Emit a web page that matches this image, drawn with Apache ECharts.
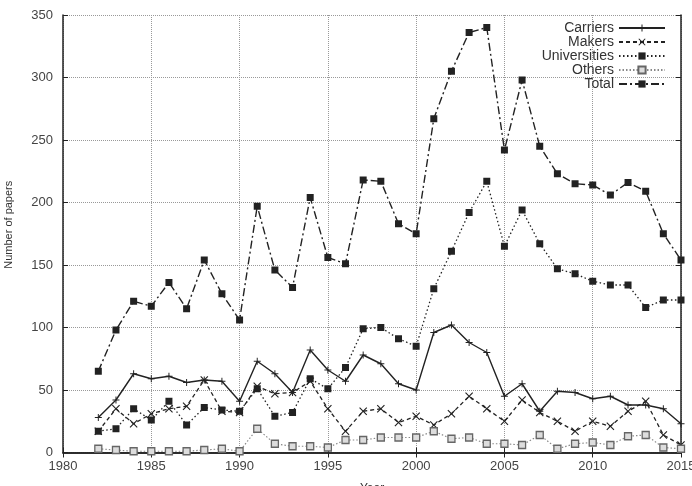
<!DOCTYPE html>
<html>
<head>
<meta charset="utf-8">
<script src="https://cdn.jsdelivr.net/npm/echarts@6/dist/echarts.min.js"></script>
<style>
  html, body { margin: 0; padding: 0; background: #fff; }
  #chart { width: 692px; height: 486px; }
</style>
</head>
<body>
<div id="chart"></div>
<script>
var years = [1982, 1983, 1984, 1985, 1986, 1987, 1988, 1989, 1990, 1991, 1992, 1993, 1994, 1995, 1996, 1997, 1998,
    1999, 2000, 2001, 2002, 2003, 2004, 2005, 2006, 2007, 2008, 2009, 2010, 2011, 2012, 2013, 2014, 2015];
var carriers = [28, 42, 63, 59, 61, 56, 58, 57, 41, 73, 63, 48, 82, 66, 57, 78, 71,
    55, 50, 96, 102, 88, 80, 45, 55, 33, 49, 48, 43, 45, 38, 38, 35, 23];
var makers = [17, 35, 23, 31, 35, 37, 58, 33, 32, 53, 47, 48, 57, 35, 17, 33, 35,
    24, 29, 22, 31, 45, 35, 25, 42, 32, 25, 17, 25, 21, 33, 41, 14, 6];
var universities = [17, 19, 35, 26, 41, 22, 36, 34, 33, 51, 29, 32, 59, 51, 68, 99, 100,
    91, 85, 131, 161, 192, 217, 165, 194, 167, 147, 143, 137, 134, 134, 116, 122, 122];
var others = [3, 2, 1, 1, 1, 1, 2, 3, 1, 19, 7, 5, 5, 4, 10, 10, 12,
    12, 12, 17, 11, 12, 7, 7, 6, 14, 3, 7, 8, 6, 13, 14, 4, 3];
var total = [65, 98, 121, 117, 136, 115, 154, 127, 106, 197, 146, 132, 204, 156, 151, 218, 217,
    183, 175, 267, 305, 336, 340, 242, 298, 245, 223, 215, 214, 206, 216, 209, 175, 154];

function pairs(vals) {
    return years.map(function (y, i) { return [y, vals[i]]; });
}

var ink = '#222';
var plusPath = 'path://M4.3,0H5.7V4.3H10V5.7H5.7V10H4.3V5.7H0V4.3H4.3Z';
var crossPath = 'path://M1,0L5,4L9,0L10,1L6,5L10,9L9,10L5,6L1,10L0,9L4,5L0,1Z';

var myChart = echarts.init(document.getElementById('chart'));
var option = {
    animation: false,
    textStyle: { fontFamily: 'Liberation Sans, Arial, sans-serif' },
    grid: { left: 63, right: 11, top: 15, bottom: 33.5, outerBoundsMode: 'none', containLabel: false },
    legend: {
        orient: 'vertical',
        right: 21,
        top: 16,
        align: 'right',
        itemWidth: 46,
        itemHeight: 9,
        itemGap: 0,
        textStyle: { fontSize: 14, color: '#333', lineHeight: 14 },
        data: ['Carriers', 'Makers', 'Universities', 'Others', 'Total']
    },
    xAxis: [{
        type: 'value',
        min: 1980,
        max: 2015,
        interval: 5,
        name: 'Year',
        nameLocation: 'middle',
        nameGap: 30,
        nameTextStyle: { fontSize: 12, color: '#333' },
        axisLine: { show: true, lineStyle: { color: ink, width: 1.5 } },
        axisTick: { inside: true, length: 5, lineStyle: { color: ink } },
        axisLabel: { fontSize: 13, color: '#444', margin: 7, formatter: function (v) { return String(v); } },
        splitLine: { show: true, lineStyle: { type: 'dotted', color: '#999', width: 1 } }
    }, {
        type: 'value',
        position: 'top',
        min: 1980,
        max: 2015,
        interval: 5,
        axisLine: { show: true, lineStyle: { color: ink, width: 1.5 } },
        axisTick: { inside: true, length: 5, lineStyle: { color: ink } },
        axisLabel: { show: false },
        splitLine: { show: false }
    }],
    yAxis: [{
        type: 'value',
        min: 0,
        max: 350,
        interval: 50,
        name: 'Number of papers',
        nameLocation: 'middle',
        nameGap: 49,
        nameTextStyle: { fontSize: 11, color: '#333', padding: [0, 0, 0, 18] },
        axisLine: { show: true, lineStyle: { color: ink, width: 1.5 } },
        axisTick: { show: true, inside: true, length: 5, lineStyle: { color: ink } },
        axisLabel: { fontSize: 13, color: '#444', margin: 10 },
        splitLine: { show: true, lineStyle: { type: 'dotted', color: '#999', width: 1 } }
    }, {
        type: 'value',
        position: 'right',
        min: 0,
        max: 350,
        interval: 50,
        axisLine: { show: true, lineStyle: { color: ink, width: 1.5 } },
        axisTick: { show: true, inside: true, length: 5, lineStyle: { color: ink } },
        axisLabel: { show: false },
        splitLine: { show: false }
    }],
    series: [{
        name: 'Carriers',
        type: 'line',
        data: pairs(carriers),
        showAllSymbol: true,
        symbol: plusPath,
        symbolSize: 7,
        color: ink,
        itemStyle: { color: ink },
        lineStyle: { color: ink, width: 1.4, type: 'solid' },
        z: 3
    }, {
        name: 'Makers',
        type: 'line',
        data: pairs(makers),
        showAllSymbol: true,
        symbol: crossPath,
        symbolSize: 8,
        color: ink,
        itemStyle: { color: ink },
        lineStyle: { color: ink, width: 1.3, type: [4, 3] },
        z: 3
    }, {
        name: 'Universities',
        type: 'line',
        data: pairs(universities),
        showAllSymbol: true,
        symbol: 'rect',
        symbolSize: 7,
        color: ink,
        itemStyle: { color: ink },
        lineStyle: { color: ink, width: 1.3, type: [1.5, 2.5] },
        z: 3
    }, {
        name: 'Others',
        type: 'line',
        data: pairs(others),
        showAllSymbol: true,
        symbol: 'rect',
        symbolSize: 7,
        color: '#777',
        itemStyle: { color: '#ddd', borderColor: '#666', borderWidth: 1.3 },
        lineStyle: { color: '#888', width: 1.2, type: [1.5, 2] },
        z: 3
    }, {
        name: 'Total',
        type: 'line',
        data: pairs(total),
        showAllSymbol: true,
        symbol: 'rect',
        symbolSize: 7,
        color: ink,
        itemStyle: { color: ink },
        lineStyle: { color: ink, width: 1.4, type: [8, 3, 2, 3] },
        z: 4
    }]
};
myChart.setOption(option);
</script>
</body>
</html>
